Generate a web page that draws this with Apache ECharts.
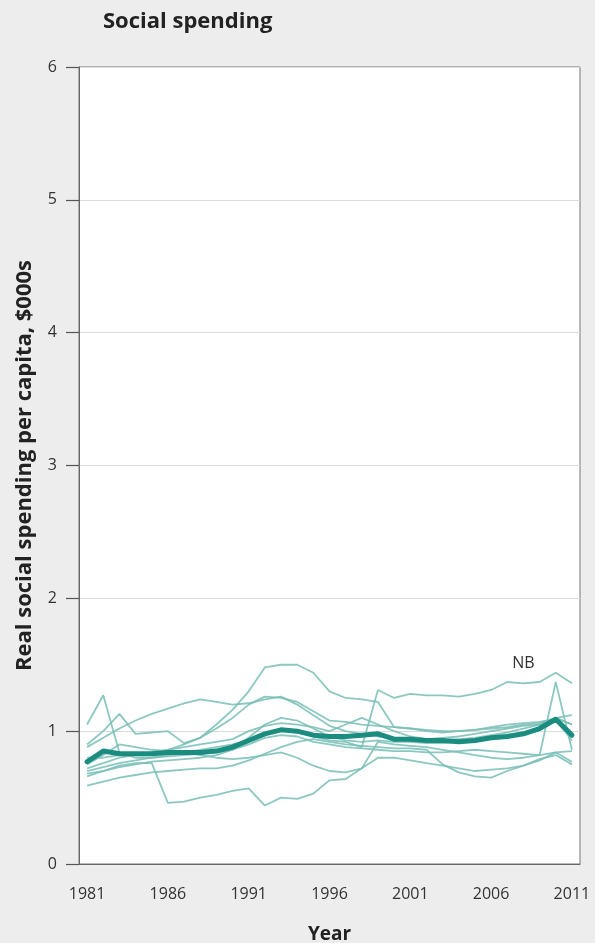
<!DOCTYPE html>
<html>
<head>
<meta charset="utf-8">
<script src="https://cdn.jsdelivr.net/npm/echarts@6/dist/echarts.min.js"></script>
<style>
  html, body { margin: 0; padding: 0; background: #ededed; }
  #chart { width: 595px; height: 943px; }
</style>
</head>
<body>
<div id="chart"></div>
<script>
// Years 1981–2011
const years = [];
for (let y = 1981; y <= 2011; y++) years.push(String(y));

// Real social spending per capita ($000s), by province
const NL = [1.05,1.27,0.84,0.80,0.80,0.81,0.82,0.83,0.84,0.86,0.90,0.95,0.97,0.96,0.92,0.90,0.88,0.87,0.86,0.85,0.85,0.84,0.84,0.85,0.86,0.85,0.84,0.83,0.82,1.37,0.86];
const PE = [0.88,0.95,1.02,1.08,1.13,1.17,1.21,1.24,1.22,1.20,1.21,1.24,1.26,1.20,1.12,1.04,1.00,0.98,0.96,0.95,0.94,0.94,0.95,0.96,0.98,1.00,1.02,1.04,1.05,1.10,1.12];
const NS = [0.90,1.00,1.13,0.98,0.99,1.00,0.91,0.95,1.02,1.10,1.20,1.26,1.25,1.22,1.15,1.08,1.07,1.05,1.04,1.03,1.02,1.00,0.99,1.00,1.01,1.03,1.05,1.06,1.07,1.09,0.93];
const NB = [0.70,0.73,0.76,0.78,0.80,0.82,0.84,0.86,0.88,0.90,0.93,0.98,1.02,1.00,0.96,0.93,0.92,0.88,1.31,1.25,1.28,1.27,1.27,1.26,1.28,1.31,1.37,1.36,1.37,1.44,1.36];
const QC = [0.72,0.76,0.80,0.82,0.84,0.86,0.90,0.95,1.05,1.16,1.30,1.48,1.50,1.50,1.44,1.30,1.25,1.24,1.22,1.03,1.02,1.01,1.00,1.00,1.01,1.02,1.03,1.05,1.06,1.10,1.05];
const ON = [0.68,0.70,0.73,0.75,0.77,0.78,0.79,0.80,0.82,0.86,0.95,1.05,1.10,1.08,1.02,0.96,0.93,0.92,0.93,0.92,0.92,0.91,0.91,0.92,0.93,0.95,0.97,0.99,1.02,1.08,0.98];
const MB = [0.66,0.70,0.74,0.76,0.76,0.46,0.47,0.50,0.52,0.55,0.57,0.44,0.50,0.49,0.53,0.63,0.64,0.72,0.92,0.90,0.89,0.88,0.86,0.84,0.82,0.80,0.79,0.80,0.82,0.84,0.77];
const SK = [0.59,0.62,0.65,0.67,0.69,0.70,0.71,0.72,0.72,0.74,0.78,0.83,0.88,0.92,0.94,0.92,0.90,0.89,0.88,0.87,0.87,0.86,0.75,0.69,0.66,0.65,0.70,0.74,0.79,0.82,0.75];
const AB = [0.75,0.82,0.90,0.88,0.86,0.85,0.84,0.82,0.80,0.79,0.80,0.82,0.84,0.80,0.74,0.70,0.69,0.72,0.80,0.80,0.78,0.76,0.74,0.72,0.70,0.71,0.72,0.74,0.78,0.84,0.85];
const BC = [0.80,0.80,0.82,0.83,0.84,0.86,0.88,0.90,0.92,0.94,1.00,1.04,1.06,1.05,1.03,1.00,1.05,1.10,1.05,1.00,0.96,0.94,0.93,0.94,0.95,0.97,0.99,1.02,1.05,1.10,1.05];
// Provincial average
const AVG = [0.77,0.85,0.83,0.83,0.83,0.84,0.84,0.84,0.85,0.88,0.93,0.98,1.01,1.00,0.97,0.96,0.96,0.97,0.98,0.94,0.94,0.93,0.93,0.92,0.93,0.95,0.96,0.98,1.02,1.09,0.97];

const provinces = { NL, PE, NS, NB, QC, ON, MB, SK, AB, BC };
const yTicks = [0, 1, 2, 3, 4, 5, 6];

const thinColor = 'rgba(120,190,182,0.85)';
const thickColor = '#1b8c80';
const fontFamily = 'Open Sans';

const series = Object.keys(provinces).map(name => ({
  name,
  type: 'line',
  data: provinces[name],
  symbol: 'none',
  lineStyle: { color: thinColor, width: 1.8 },
  z: 2,
  silent: true
}));

// Province tag placed just above its line near the end of the period
series.find(s => s.name === 'NB').markPoint = {
  symbol: 'circle',
  symbolSize: 0,
  data: [{ coord: ['2008', 1.51] }],
  label: {
    show: true,
    formatter: 'NB',
    color: '#333',
    fontFamily,
    fontSize: 16,
    position: 'inside'
  }
};

series.push({
  name: 'Average',
  type: 'line',
  data: AVG,
  symbol: 'none',
  lineStyle: { color: thickColor, width: 5, cap: 'round', join: 'round' },
  z: 5,
  silent: true
});

const chart = echarts.init(document.getElementById('chart'), null, { renderer: 'canvas' });
chart.setOption({
  backgroundColor: '#ededed',
  animation: false,
  title: {
    text: 'Social spending',
    left: 98,
    top: 6,
    textStyle: { fontFamily, fontWeight: 'bold', fontSize: 22, color: '#222' }
  },
  grid: {
    left: 79, right: 15, top: 67, bottom: 79,
    outerBoundsMode: 'none',
    containLabel: false,
    show: true,
    backgroundColor: '#ffffff',
    borderColor: '#777',
    borderWidth: 1
  },
  xAxis: {
    type: 'category',
    data: years,
    boundaryGap: true,
    name: 'Year',
    nameLocation: 'middle',
    nameGap: 61,
    nameTextStyle: { fontFamily, fontWeight: 'bold', fontSize: 19, color: '#222' },
    axisLine: { show: true, lineStyle: { color: '#666', width: 1 } },
    axisTick: { show: false },
    axisLabel: {
      interval: 4,
      margin: 22,
      fontFamily,
      fontSize: 16,
      color: '#333'
    },
    splitLine: { show: false }
  },
  yAxis: {
    type: 'value',
    min: yTicks[0],
    max: yTicks[yTicks.length - 1],
    interval: 1,
    name: 'Real social spending per capita, $000s',
    nameLocation: 'middle',
    nameGap: 43,
    nameTextStyle: { fontFamily, fontWeight: 'bold', fontSize: 22, color: '#222' },
    axisLine: { show: true, lineStyle: { color: '#666', width: 1 } },
    axisTick: { show: true, length: 13, lineStyle: { color: '#555', width: 1.2 } },
    axisLabel: {
      margin: 22,
      fontFamily,
      fontSize: 16,
      color: '#333'
    },
    splitLine: { show: true, lineStyle: { color: '#dcdcdc', width: 1.2 } }
  },
  series
});
</script>
</body>
</html>
